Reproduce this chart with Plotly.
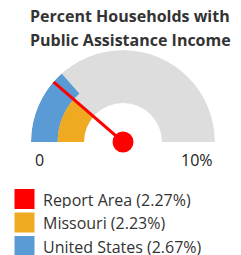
import plotly.graph_objects as go

# Data
title_lines = ["Percent Households with", "Public Assistance Income"]
gauge_min = 0
gauge_max = 10
tick_labels = ["0", "10%"]
series_names = ["Report Area", "Missouri", "United States"]
series_values = [2.27, 2.23, 2.67]
series_colors = ["#FF0000", "#EFAA22", "#5B9BD5"]
track_color = "#DDDDDD"

W, H = 241, 255
FONT = "Open Sans"

def to_deg(v):
    return (v - gauge_min) / (gauge_max - gauge_min) * 180.0

fig = go.Figure()

hole = 0.424
mid = 0.71
outer = 1.0

fig.add_trace(go.Barpolar(r=[outer - hole], base=[hole], theta=[90], width=[180],
                          marker=dict(color=track_color, line=dict(width=0)),
                          hoverinfo="skip", showlegend=False))
us = series_values[2]
fig.add_trace(go.Barpolar(r=[outer - mid], base=[mid], theta=[to_deg(us) / 2], width=[to_deg(us)],
                          marker=dict(color=series_colors[2], line=dict(width=0)),
                          showlegend=False))
mo = series_values[1]
fig.add_trace(go.Barpolar(r=[mid - hole], base=[hole], theta=[to_deg(mo) / 2], width=[to_deg(mo)],
                          marker=dict(color=series_colors[1], line=dict(width=0)),
                          showlegend=False))
ra = series_values[0]
fig.add_trace(go.Scatterpolar(r=[0, outer], theta=[to_deg(ra), to_deg(ra)], mode="lines",
                              line=dict(color=series_colors[0], width=3),
                              cliponaxis=False, showlegend=False))
fig.add_trace(go.Scatterpolar(r=[0], theta=[0], mode="markers",
                              marker=dict(color=series_colors[0], size=21, line=dict(width=0)),
                              cliponaxis=False, showlegend=False))

cx, cy, R = 123, 142, 92
fig.update_layout(
    width=W, height=H,
    margin=dict(l=0, r=0, t=0, b=0),
    paper_bgcolor="white",
    plot_bgcolor="white",
    showlegend=False,
    polar=dict(
        domain=dict(x=[(cx - R) / W, (cx + R) / W], y=[(H - cy) / H, (H - cy + R) / H]),
        sector=[0, 180],
        bgcolor="rgba(0,0,0,0)",
        radialaxis=dict(range=[0, 1], visible=False, showgrid=False),
        angularaxis=dict(direction="clockwise", rotation=180, visible=False,
                         showgrid=False, thetaunit="degrees"),
        barmode="overlay",
    ),
)

annotations = []
for i, line in enumerate(title_lines):
    annotations.append(dict(text=f"<b>{line}</b>", x=130 / W, y=1 - (16 + 24 * i) / H,
                            xref="paper", yref="paper", xanchor="center", yanchor="middle",
                            showarrow=False, borderpad=0,
                            font=dict(family=FONT, size=16, color="#333333")))
annotations.append(dict(text=tick_labels[0], x=39 / W, y=1 - 160 / H, xref="paper", yref="paper",
                        xanchor="center", yanchor="middle", showarrow=False, borderpad=0,
                        font=dict(family=FONT, size=16, color="#222222")))
annotations.append(dict(text=tick_labels[1], x=197 / W, y=1 - 160 / H, xref="paper", yref="paper",
                        xanchor="center", yanchor="middle", showarrow=False, borderpad=0,
                        font=dict(family=FONT, size=16, color="#222222")))

shapes = []
row_y = [199, 222.5, 246]
for name, val, col, yc in zip(series_names, series_values, series_colors, row_y):
    shapes.append(dict(type="rect", xref="paper", yref="paper",
                       x0=14.5 / W, x1=34.5 / W, y0=1 - (yc + 10) / H, y1=1 - (yc - 10) / H,
                       fillcolor=col, line=dict(width=0)))
    annotations.append(dict(text=f"{name} ({val:.2f}%)", x=42 / W, y=1 - yc / H,
                            xref="paper", yref="paper", xanchor="left", yanchor="middle",
                            showarrow=False, borderpad=0, height=17,
                            font=dict(family=FONT, size=16, color="#333333")))

fig.update_layout(annotations=annotations, shapes=shapes)
fig.write_html("out.html", config={"displayModeBar": False},
               post_script="document.body.style.margin='0';document.body.style.overflow='hidden';")
